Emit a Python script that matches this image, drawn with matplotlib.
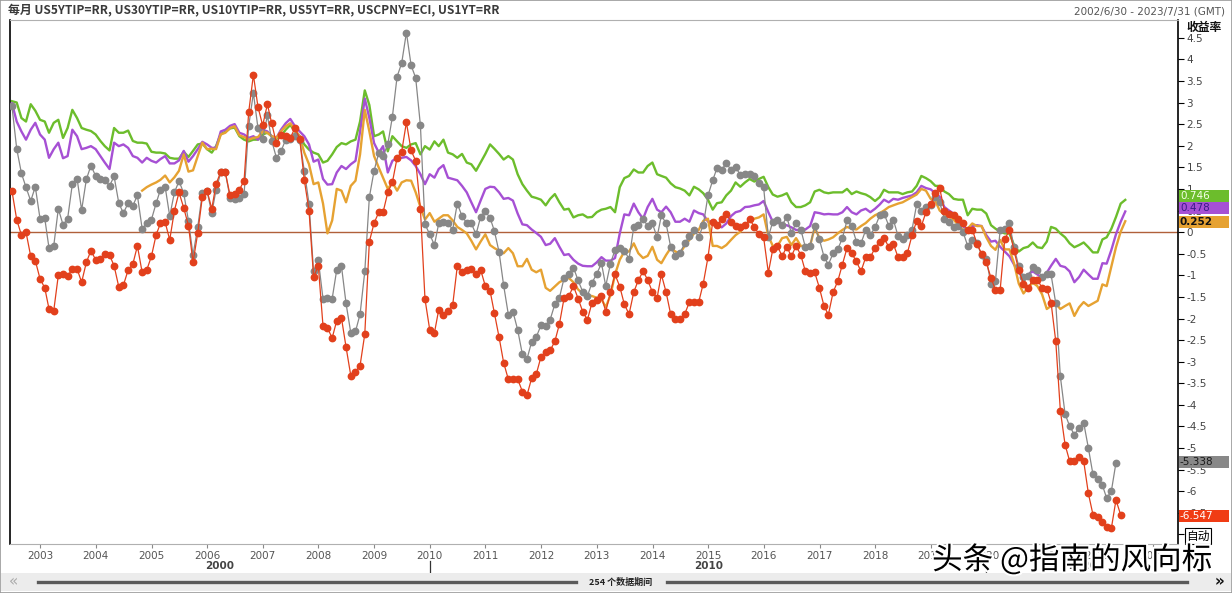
import numpy as np
import pandas as pd
import matplotlib
matplotlib.use("Agg")
import matplotlib.pyplot as plt
import matplotlib.patheffects as pe
import matplotlib.dates as mdates
import matplotlib.transforms as mtrans
from matplotlib.patches import Rectangle
from matplotlib.lines import Line2D
from matplotlib.ticker import MultipleLocator, FuncFormatter

plt.rcParams["font.family"] = ["DejaVu Sans", "Noto Sans CJK SC"]
CJK = ["Noto Sans CJK SC", "DejaVu Sans"]

W, H = 1232, 593

# 月度数据，2002/6 起
tips30 = [
    3.03, 3.00, 2.64, 2.56, 2.96, 2.81, 2.60, 2.56, 2.30, 2.53,
    2.60, 2.18, 2.41, 2.83, 2.64, 2.41, 2.37, 2.34, 2.26, 2.11,
    1.99, 1.89, 2.41, 2.30, 2.30, 2.35, 2.11, 2.07, 2.07, 2.05,
    1.86, 1.84, 1.84, 1.82, 1.72, 1.70, 1.70, 1.86, 1.74, 1.88,
    2.03, 2.05, 1.92, 1.84, 1.99, 2.27, 2.32, 2.40, 2.42, 2.22,
    2.14, 2.10, 2.14, 2.14, 2.26, 2.30, 2.22, 2.16, 2.22, 2.37,
    2.48, 2.33, 2.22, 2.03, 1.91, 1.84, 1.80, 1.61, 1.65, 1.80,
    1.97, 2.06, 2.03, 2.10, 2.14, 2.56, 3.28, 2.94, 2.22, 2.26,
    2.33, 1.87, 2.22, 2.10, 1.99, 1.95, 2.03, 2.06, 1.80, 1.99,
    1.91, 2.10, 1.99, 2.14, 1.84, 1.80, 1.72, 1.81, 1.61, 1.57,
    1.42, 1.61, 1.81, 2.03, 1.93, 1.81, 1.68, 1.76, 1.68, 1.34,
    1.11, 0.96, 0.82, 0.79, 0.75, 0.62, 0.77, 0.88, 0.69, 0.52,
    0.54, 0.34, 0.39, 0.41, 0.34, 0.35, 0.46, 0.52, 0.54, 0.58,
    0.46, 1.04, 1.25, 1.30, 1.45, 1.38, 1.38, 1.53, 1.61, 1.34,
    1.30, 1.26, 1.13, 1.04, 1.01, 0.96, 0.85, 1.05, 0.99, 0.90,
    0.75, 0.52, 0.67, 0.69, 0.85, 0.96, 1.15, 1.05, 1.15, 1.23,
    1.17, 1.23, 1.28, 1.04, 0.87, 0.82, 0.85, 0.90, 0.69, 0.58,
    0.58, 0.62, 0.69, 0.94, 0.98, 0.92, 0.90, 0.92, 0.92, 0.92,
    1.00, 0.88, 0.94, 0.90, 0.87, 0.81, 0.72, 0.81, 0.98, 0.92,
    0.92, 0.92, 0.88, 0.92, 0.94, 1.07, 1.30, 1.25, 1.18, 1.07,
    1.07, 0.94, 0.88, 0.77, 0.75, 0.75, 0.39, 0.54, 0.52, 0.52,
    0.43, 0.16, 0.08, 0.01, -0.03, -0.03, -0.30, -0.45, -0.37, -0.34,
    -0.24, -0.35, -0.37, -0.22, 0.12, 0.08, -0.03, -0.12, -0.26, -0.35,
    -0.30, -0.24, -0.35, -0.47, -0.47, -0.17, -0.12, 0.08, 0.35, 0.66, 0.746,
]

tips10 = [
    2.98, 2.56, 2.33, 2.14, 2.37, 2.53, 2.26, 2.14, 1.72, 1.92,
    2.07, 1.71, 1.76, 2.37, 2.22, 1.92, 1.95, 1.99, 1.92, 1.76,
    1.61, 1.46, 2.07, 1.99, 2.03, 1.95, 1.76, 1.72, 1.61, 1.72,
    1.65, 1.61, 1.69, 1.76, 1.59, 1.59, 1.66, 1.88, 1.63, 1.76,
    1.92, 2.09, 2.03, 1.95, 1.95, 2.33, 2.37, 2.46, 2.50, 2.30,
    2.26, 2.18, 2.22, 2.14, 2.37, 2.33, 2.22, 2.18, 2.37, 2.52,
    2.62, 2.45, 2.33, 2.22, 2.03, 1.63, 1.68, 1.23, 1.10, 1.11,
    1.38, 1.53, 1.46, 1.57, 1.65, 2.33, 3.09, 2.64, 2.06, 1.84,
    1.99, 1.38, 1.65, 1.72, 1.72, 1.74, 1.66, 1.53, 1.34, 1.11,
    1.34, 1.26, 1.46, 1.55, 1.26, 1.23, 1.20, 1.07, 0.92, 0.69,
    0.46, 0.73, 1.00, 1.05, 1.04, 0.92, 0.77, 0.79, 0.73, 0.43,
    0.18, 0.16, 0.06, -0.02, -0.11, -0.30, -0.27, -0.14, -0.34, -0.53,
    -0.51, -0.64, -0.73, -0.78, -0.79, -0.79, -0.70, -0.58, -0.66, -0.66,
    -0.60, -0.03, 0.41, 0.39, 0.66, 0.46, 0.31, 0.58, 0.77, 0.52,
    0.46, 0.59, 0.46, 0.24, 0.24, 0.31, 0.24, 0.50, 0.44, 0.41,
    0.24, 0.26, 0.16, 0.11, 0.20, 0.37, 0.46, 0.49, 0.58, 0.59,
    0.62, 0.64, 0.72, 0.46, 0.24, 0.24, 0.14, 0.16, 0.11, 0.05,
    0.05, 0.06, 0.14, 0.46, 0.44, 0.41, 0.42, 0.41, 0.41, 0.46,
    0.58, 0.46, 0.41, 0.50, 0.54, 0.46, 0.54, 0.64, 0.75, 0.69,
    0.77, 0.75, 0.79, 0.82, 0.85, 0.92, 1.07, 1.02, 0.99, 0.90,
    0.82, 0.58, 0.50, 0.43, 0.29, 0.14, 0.03, 0.14, 0.16, 0.14,
    -0.07, -0.22, -0.20, -0.34, -0.45, -0.56, -0.75, -0.94, -1.06, -0.98,
    -0.91, -0.98, -1.06, -0.94, -0.78, -0.62, -0.78, -0.81, -0.91, -1.16,
    -1.04, -0.87, -0.98, -1.08, -1.08, -0.72, -0.73, -0.41, -0.05, 0.24, 0.478,
]

# 5年TIPS 从第28个月开始
tips5_start = 28
tips5 = [
    0.96, 1.04,
    1.10, 1.15, 1.21, 1.31, 1.15, 1.27, 1.42, 1.80, 1.40, 1.43,
    1.76, 2.07, 1.92, 1.93, 1.92, 2.26, 2.30, 2.41, 2.45, 2.24,
    2.20, 2.14, 2.18, 2.20, 2.33, 2.30, 2.22, 2.18, 2.33, 2.45,
    2.52, 2.37, 2.22, 1.84, 1.57, 1.11, 1.15, 0.66, -0.03, 0.27,
    1.00, 0.96, 0.69, 1.07, 1.19, 1.80, 2.83, 2.33, 1.76, 1.49,
    1.26, 1.00, 1.15, 0.96, 1.15, 1.20, 1.19, 0.92, 0.58, 0.29,
    0.44, 0.24, 0.31, 0.39, 0.39, 0.27, 0.12, 0.05, -0.03, -0.20,
    -0.40, -0.22, -0.05, -0.30, -0.37, -0.43, -0.49, -0.37, -0.49, -0.79,
    -0.79, -0.62, -0.87, -0.93, -0.87, -1.29, -1.36, -1.26, -1.16, -1.10,
    -1.06, -1.16, -1.33, -1.42, -1.46, -1.48, -1.52, -1.55, -1.74, -1.46,
    -0.98, -0.64, -0.45, -0.45, -0.26, -0.49, -0.60, -0.55, -0.34, -0.64,
    -0.72, -0.53, -0.37, -0.45, -0.49, -0.32, -0.18, -0.03, 0.05, 0.26,
    0.31, -0.32, -0.32, -0.37, -0.30, -0.18, -0.07, 0.01, 0.14, 0.26,
    0.31, 0.34, 0.41, -0.09, -0.32, -0.32, -0.14, -0.11, -0.30, -0.14,
    -0.32, -0.32, -0.32, 0.11, -0.14, -0.20, -0.17, -0.12, -0.03, 0.05,
    0.12, 0.08, 0.06, 0.14, 0.21, 0.31, 0.39, 0.44, 0.50, 0.58,
    0.62, 0.66, 0.69, 0.75, 0.81, 0.87, 1.00, 0.96, 0.77, 0.72,
    0.50, 0.41, 0.37, 0.29, 0.16, 0.05, 0.08, 0.20, 0.14, 0.14,
    -0.12, -0.32, -0.41, -0.18, -0.40, -0.40, -0.72, -1.19, -1.42, -1.29,
    -1.17, -1.25, -1.44, -1.78, -1.71, -1.65, -1.78, -1.71, -1.65, -1.94,
    -1.74, -1.62, -1.71, -1.65, -1.59, -1.21, -1.25, -0.79, -0.35, 0.01, 0.252,
]

# 5年国债 - CPI（灰）
real5y = [
    2.91, 1.93, 1.36, 1.04, 0.72, 1.05, 0.31, 0.32, -0.37, -0.32,
    0.54, 0.17, 0.31, 1.11, 1.24, 0.51, 1.22, 1.54, 1.30, 1.22,
    1.21, 1.07, 1.29, 0.67, 0.44, 0.67, 0.61, 0.85, 0.08, 0.20,
    0.29, 0.67, 0.98, 1.05, 0.37, 0.92, 1.18, 0.90, 0.26, -0.53,
    0.12, 0.90, 0.95, 0.44, 0.98, 1.38, 1.38, 0.79, 0.77, 0.78,
    0.88, 2.45, 3.22, 2.41, 2.16, 2.70, 2.12, 1.72, 1.87, 2.14,
    2.16, 2.22, 2.14, 1.42, 0.66, -0.91, -0.64, -1.55, -1.52, -1.54,
    -0.87, -0.79, -1.65, -2.33, -2.30, -1.90, -0.91, 0.81, 1.42, 1.84,
    1.76, 2.03, 2.67, 3.60, 3.91, 4.62, 3.86, 3.57, 2.47, 0.18,
    -0.05, -0.30, 0.20, 0.24, 0.20, 0.06, 0.66, 0.37, 0.21, 0.20,
    -0.05, 0.35, 0.48, 0.33, 0.03, -0.46, -1.23, -1.91, -1.84, -2.26,
    -2.83, -2.94, -2.54, -2.43, -2.16, -2.18, -2.03, -1.67, -1.52, -1.06,
    -0.98, -0.82, -1.12, -1.38, -1.48, -1.17, -0.97, -0.72, -1.25, -0.73,
    -0.41, -0.37, -0.43, -0.62, 0.12, 0.16, 0.31, 0.14, 0.20, -0.12,
    0.39, 0.20, -0.34, -0.56, -0.49, -0.26, -0.09, 0.06, -0.11, 0.16,
    0.85, 1.20, 1.48, 1.43, 1.61, 1.43, 1.51, 1.32, 1.34, 1.34,
    1.30, 1.13, 1.04, -0.11, 0.24, 0.29, 0.16, 0.35, -0.02, 0.21,
    0.06, -0.35, -0.32, 0.14, -0.17, -0.58, -0.75, -0.49, -0.40, -0.14,
    0.27, 0.14, -0.22, -0.26, 0.05, -0.07, 0.11, 0.39, 0.43, 0.15,
    0.29, -0.09, -0.17, -0.07, 0.06, 0.64, 0.49, 0.58, 0.62, 0.81,
    0.69, 0.31, 0.24, 0.11, 0.14, 0.01, -0.32, -0.18, -0.26, -0.53,
    -0.62, -1.21, -1.14, 0.05, 0.08, 0.20, -0.35, -0.79, -1.04, -1.02,
    -0.81, -0.87, -1.04, -0.98, -0.98, -1.65, -3.34, -4.21, -4.49, -4.69,
    -4.53, -4.41, -5.00, -5.61, -5.71, -5.86, -6.16, -5.99, -5.338,
]

# 1年国债 - CPI（红）
real1y = [
    0.95, 0.29, -0.07, 0.00, -0.56, -0.66, -1.08, -1.29, -1.78, -1.82,
    -1.00, -0.98, -1.02, -0.85, -0.85, -1.16, -0.70, -0.43, -0.64, -0.62,
    -0.50, -0.53, -0.78, -1.27, -1.23, -0.88, -0.74, -0.32, -0.93, -0.88,
    -0.56, -0.06, 0.20, 0.23, -0.18, 0.50, 0.92, 0.56, 0.15, -0.70,
    -0.02, 0.81, 0.96, 0.54, 1.11, 1.40, 1.38, 0.85, 0.89, 0.98,
    1.19, 2.77, 3.64, 2.90, 2.47, 2.96, 2.52, 2.06, 2.24, 2.22,
    2.18, 2.41, 2.16, 1.21, 0.50, -1.04, -0.78, -2.18, -2.22, -2.45,
    -2.05, -1.99, -2.66, -3.32, -3.23, -3.09, -2.36, -0.22, 0.21, 0.46,
    0.46, 0.92, 1.15, 1.72, 1.86, 2.54, 1.89, 1.65, 0.54, -1.55,
    -2.26, -2.33, -1.80, -1.92, -1.83, -1.68, -0.79, -0.93, -0.88, -0.86,
    -0.98, -0.87, -1.25, -1.36, -1.87, -2.43, -3.02, -3.41, -3.40, -3.40,
    -3.69, -3.78, -3.38, -3.29, -2.89, -2.77, -2.74, -2.53, -2.13, -1.52,
    -1.49, -1.25, -1.54, -1.84, -2.03, -1.63, -1.57, -1.48, -1.84, -1.39,
    -0.98, -1.26, -1.67, -1.90, -1.39, -1.11, -0.91, -1.10, -1.39, -1.52,
    -0.98, -1.39, -1.90, -2.01, -2.01, -1.90, -1.62, -1.62, -1.62, -1.19,
    -0.58, 0.24, 0.16, 0.30, 0.43, 0.24, 0.14, 0.11, 0.16, 0.30,
    0.12, -0.05, -0.12, -0.94, -0.40, -0.32, -0.56, -0.34, -0.56, -0.32,
    -0.53, -0.91, -0.94, -0.93, -1.29, -1.72, -1.91, -1.39, -1.14, -0.75,
    -0.37, -0.49, -0.68, -0.91, -0.58, -0.58, -0.37, -0.22, -0.14, -0.34,
    -0.27, -0.58, -0.58, -0.49, -0.07, 0.26, 0.14, 0.46, 0.64, 0.90,
    1.02, 0.50, 0.41, 0.39, 0.31, 0.20, 0.06, 0.06, -0.27, -0.50,
    -0.70, -1.06, -1.34, -1.34, -0.17, 0.05, -0.43, -0.88, -1.19, -1.29,
    -1.11, -1.10, -1.29, -1.31, -1.63, -2.53, -4.13, -4.92, -5.30, -5.30,
    -5.20, -5.30, -6.05, -6.54, -6.60, -6.70, -6.83, -6.85, -6.20, -6.547,
]

title_left = "每月 US5YTIP=RR, US30YTIP=RR, US10YTIP=RR, US5YT=RR, USCPNY=ECI, US1YT=RR"
title_right = "2002/6/30 - 2023/7/31 (GMT)"

GREEN = "#6cbd2c"
PURPLE = "#a650d4"
ORANGE = "#e6a232"
GREY = "#878787"
RED = "#e2401c"

dates = pd.date_range("2002-07-01", periods=260, freq="MS") - pd.Timedelta(days=1)


def fx(px):
    return px / W


def fy(py):
    return 1 - py / H


fig = plt.figure(figsize=(W / 100, H / 100), dpi=100)
fig.patch.set_facecolor("white")

ax = fig.add_axes([fx(10), fy(544), 1168 / W, 524 / H])
ax.set_facecolor("white")

ax.axhline(0, color="#b0603a", lw=1.0, zorder=1)

ax.plot(dates[:len(tips30)], tips30, color=GREEN, lw=1.7, zorder=2)
ax.plot(dates[:len(tips10)], tips10, color=PURPLE, lw=1.7, zorder=3)
ax.plot(dates[tips5_start:tips5_start + len(tips5)], tips5, color=ORANGE, lw=1.7, zorder=4)
ax.plot(dates[:len(real5y)], real5y, color=GREY, lw=0.9, marker="o", ms=4.6,
        mec=GREY, mfc=GREY, zorder=5)
ax.plot(dates[:len(real1y)], real1y, color=RED, lw=0.9, marker="o", ms=4.6,
        mec=RED, mfc=RED, zorder=6)

x0 = dates[0] - pd.Timedelta(days=13)
x1 = pd.Timestamp("2023-06-11")
ax.set_xlim(x0, x1)
y_lo, y_hi = -7.22, 4.91
ax.set_ylim(y_lo, y_hi)
px_per_unit = 524 / (y_hi - y_lo)

# 右侧刻度
ax.yaxis.tick_right()
ax.yaxis.set_major_locator(MultipleLocator(0.5))
ax.yaxis.set_major_formatter(FuncFormatter(lambda v, p: f"{v:g}"))
ax.tick_params(axis="y", which="both", direction="out", length=4, width=0.8,
               color="black", labelsize=7.5, labelcolor="#444444", pad=2)

ax.xaxis.set_major_locator(mdates.YearLocator())
ax.xaxis.set_major_formatter(mdates.DateFormatter("%Y"))
ax.tick_params(axis="x", direction="out", length=3, width=0.8, color="#888888",
               labelsize=7.5, labelcolor="#555555", pad=2)

for side in ["top", "bottom"]:
    ax.spines[side].set_color("#b0b0b0")
    ax.spines[side].set_linewidth(0.8)
ax.spines["left"].set_color("black")
ax.spines["left"].set_linewidth(1.2)
ax.spines["right"].set_color("black")
ax.spines["right"].set_linewidth(1.2)

# 年代标签
xt = ax.get_xaxis_transform()
decades = [
    ("2000", x0, pd.Timestamp("2010-01-01")),
    ("2010", pd.Timestamp("2010-01-01"), pd.Timestamp("2020-01-01")),
    ("2020", pd.Timestamp("2020-01-01"), x1),
]
for lab, a, b in decades:
    mid = a + (b - a) / 2
    ax.text(mid, -0.042, lab, transform=xt, ha="center", va="center",
            fontsize=7.5, fontweight="bold", color="#444444", clip_on=False)
for d in ["2010-01-01", "2020-01-01"]:
    ax.add_line(Line2D([pd.Timestamp(d)] * 2, [-0.0324, -0.0534], transform=xt,
                       color="#333333", lw=0.9, clip_on=False))

# 最新值标签（错开排列）
bt = mtrans.blended_transform_factory(ax.transAxes, ax.transData)
box_w = 50 / 1168
box_h = 12 / px_per_unit
labels = [
    (0.84, "0.746", GREEN, "#f4ffe8", "normal"),
    (0.556, "0.478", PURPLE, "#3a1a8a", "normal"),
    (0.23, "0.252", ORANGE, "#111111", "bold"),
    (-5.33, "-5.338", "#888888", "#1a1a1a", "normal"),
    (-6.58, "-6.547", "#f03c14", "#ffffff", "normal"),
]
for yv, txt, fc, tc, fw in labels:
    ax.add_patch(Rectangle((1.0 + 0.6 / 1168, yv - box_h / 2), box_w, box_h,
                           transform=bt, facecolor=fc, edgecolor="none",
                           clip_on=False, zorder=10))
    ax.text(1.0 + 2 / 1168, yv, txt, transform=bt, ha="left", va="center",
            fontsize=7.5, color=tc, fontweight=fw, clip_on=False, zorder=11)

fig.text(fx(1186), fy(536), "自动", ha="left", va="center", fontsize=8.5,
         family=CJK, color="black",
         bbox=dict(boxstyle="square,pad=0.1", fc="white", ec="black", lw=0.8))

fig.text(fx(1186), fy(27), "收益率", ha="left", va="center", fontsize=8.5,
         family=CJK, fontweight="bold", color="#111111")

# 标题栏
fig.text(fx(8), fy(11), title_left, ha="left", va="center", fontsize=8.6,
         family=CJK, fontweight="bold", color="#3a3a3a")
fig.text(fx(1225), fy(11), title_right, ha="right", va="center", fontsize=7.5,
         color="#555555")

# 底部滚动条
fig.patches.append(Rectangle((fx(1), fy(591)), fx(1230), 18 / H,
                             transform=fig.transFigure, facecolor="#ececec",
                             edgecolor="none", zorder=0))
fig.add_artist(Line2D([fx(38), fx(576)], [fy(582)] * 2, color="#5a5a5a", lw=2.4))
fig.add_artist(Line2D([fx(667), fx(1187)], [fy(582)] * 2, color="#5a5a5a", lw=2.4))
fig.text(fx(621), fy(582), "254 个数据期间", ha="center", va="center",
         fontsize=6.5, family=CJK, fontweight="bold", color="#222222")
fig.text(fx(13), fy(582), "«", ha="center", va="center", fontsize=11,
         color="#aaaaaa")
fig.text(fx(1219), fy(582), "»", ha="center", va="center", fontsize=11,
         fontweight="bold", color="#111111")

# 外框
fig.patches.append(Rectangle((0, 0), 1, 1, transform=fig.transFigure,
                             facecolor="none", edgecolor="#9a9a9a", lw=1.2))

# 水印
fig.text(fx(1072), fy(560), "头条 @指南的风向标", ha="center", va="center",
         fontsize=22, family=CJK, color="black", zorder=20,
         path_effects=[pe.withStroke(linewidth=3, foreground="white")])

fig.savefig("out.png", dpi=100)
